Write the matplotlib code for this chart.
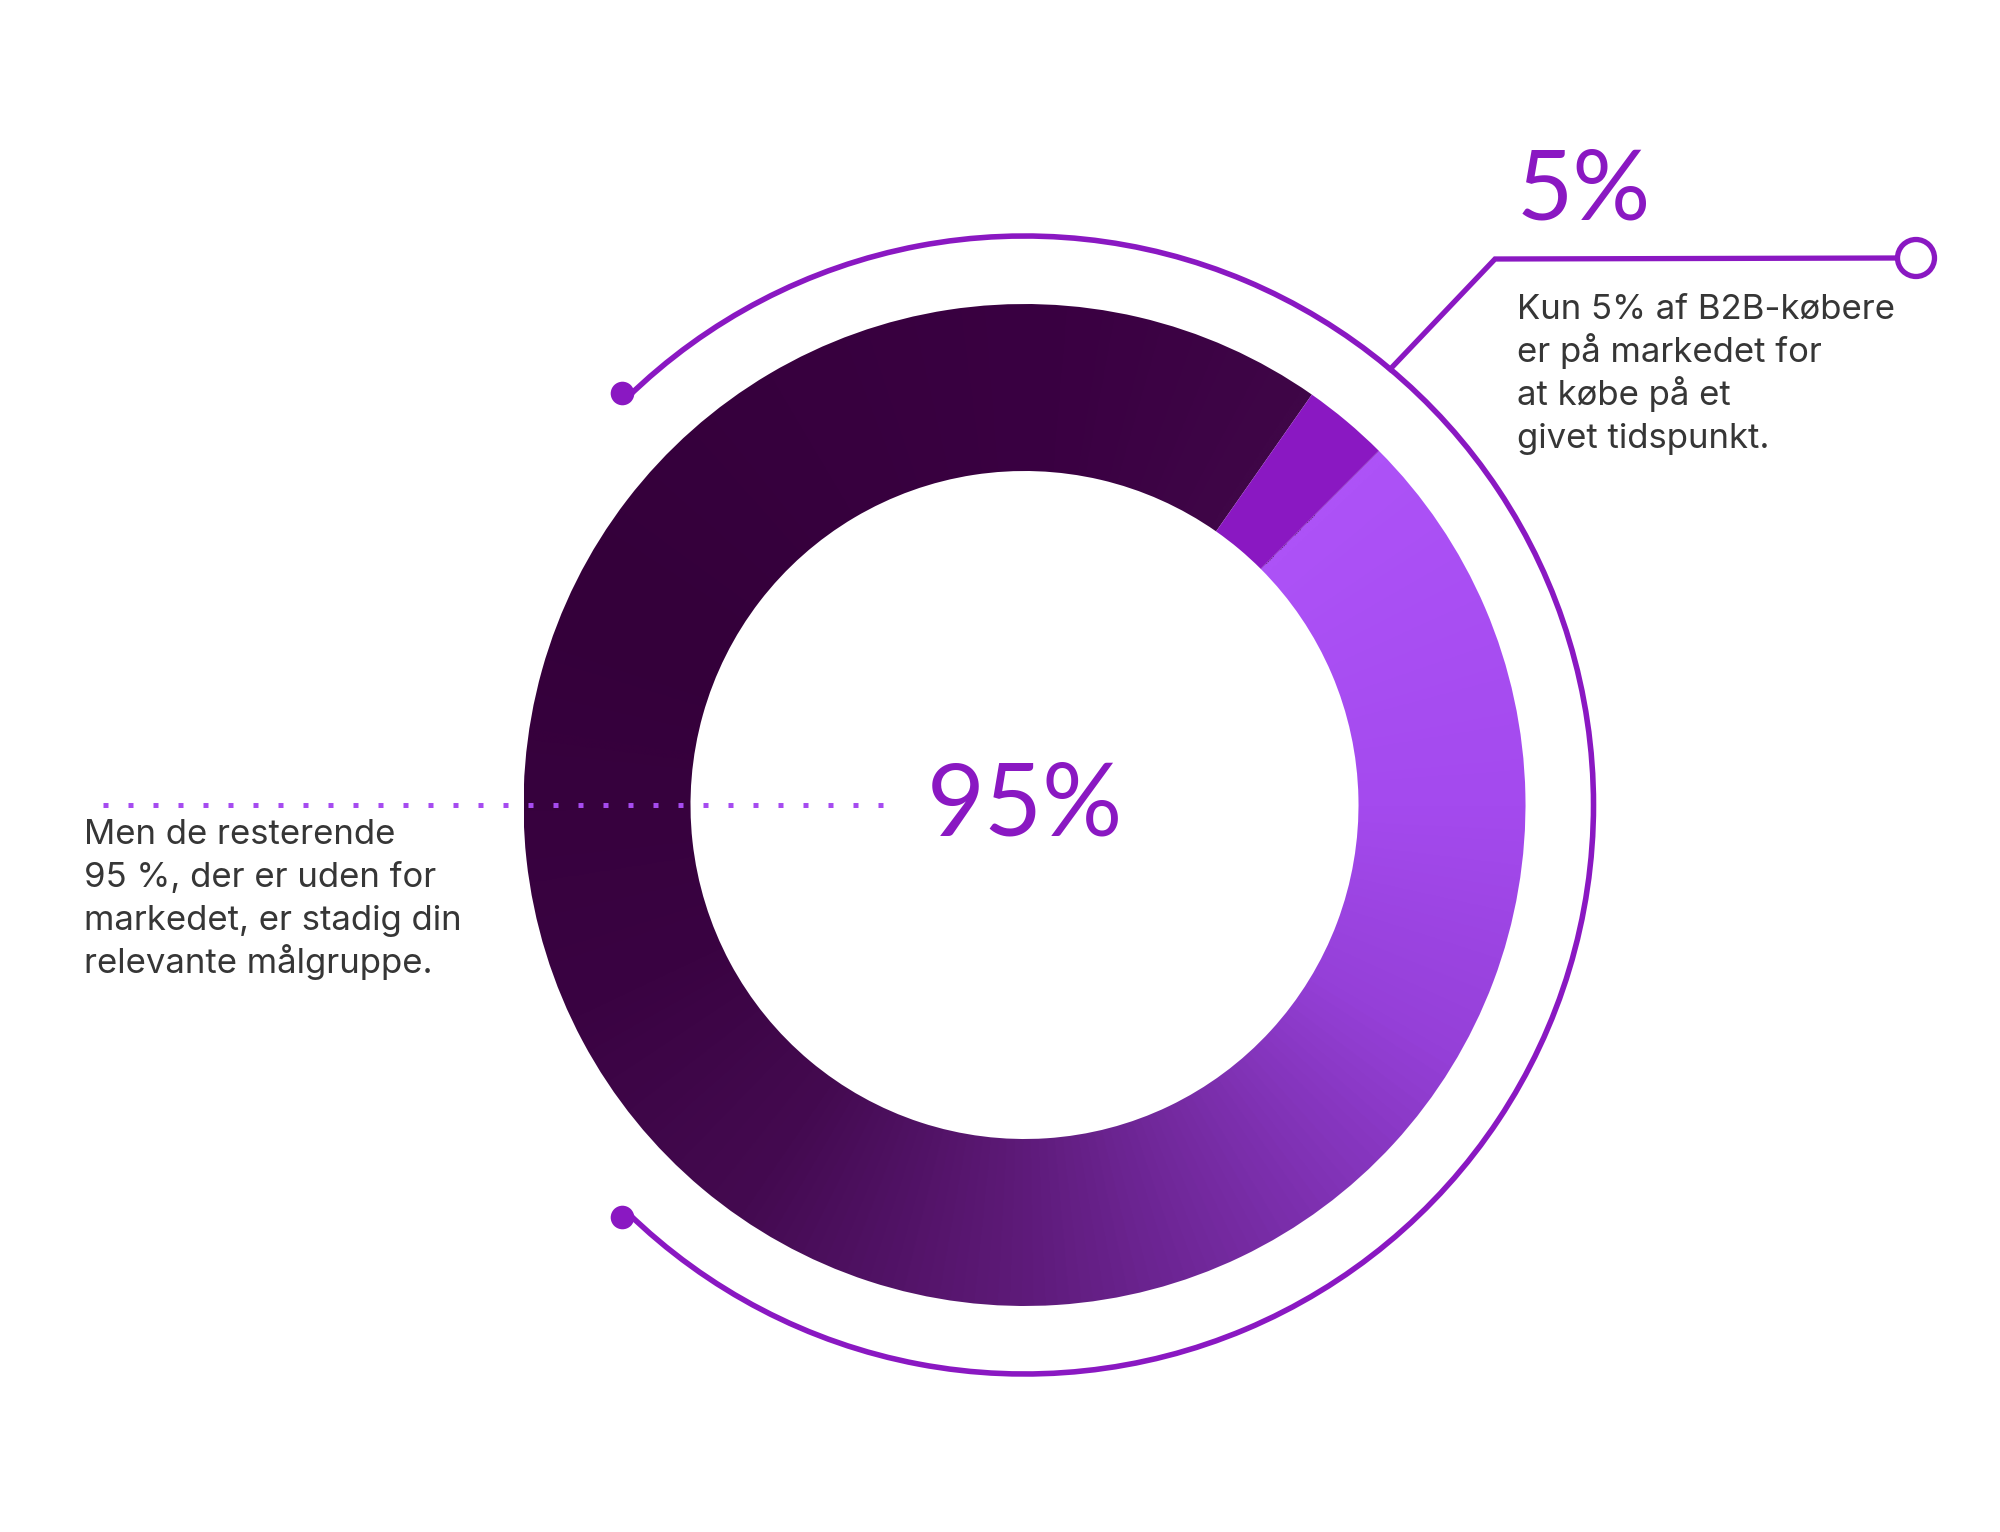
import numpy as np
import matplotlib
matplotlib.use('Agg')
import matplotlib.pyplot as plt
from matplotlib.patches import Wedge, Arc, Circle
from matplotlib.colors import LinearSegmentedColormap

plt.rcParams['font.family'] = ['Lato', 'DejaVu Sans']

# data
share_labels = ['5%', '95%']
span_deg     = [10, 350]          # angular size of the two segments as drawn
right_lines  = ['Kun 5% af B2B-købere', 'er på markedet for', 'at købe på et', 'givet tidspunkt.']
left_lines   = ['Men de resterende', '95 %, der er uden for', 'markedet, er stadig din', 'relevante målgruppe.']

# gradient of the big segment, clockwise from its start
grad_pos    = [0, 45, 75, 103, 136, 170, 200, 250, 320, 350]
grad_colors = ['#AD52F7', '#A44AEE', '#9540D8', '#7A2EAA', '#5D1A78',
               '#440A50', '#3A0342', '#34003A', '#3A0042', '#3F0647']

purple = '#8A18C2'
dot_purple = '#A64BF0'
text_grey = '#363636'

W, H = 2000, 1532
fig = plt.figure(figsize=(W / 100, H / 100), dpi=100)
ax = fig.add_axes([0, 0, 1, 1])

cx, cy = 1024.5, H - 805
r_out, r_in = 501, 334
r_ring = 569
start = 45  # boundary between the small and the big segment (deg)

# small segment
small = Wedge((cx, cy), r_out, start, start + span_deg[0], width=r_out - r_in,
              facecolor=purple, edgecolor='none', zorder=2)
ax.add_patch(small)

# big segment with conic gradient
cmap = LinearSegmentedColormap.from_list(
    'donut', list(zip(np.array(grad_pos) / span_deg[1], grad_colors)))
n = 1200
xs = np.linspace(cx - r_out, cx + r_out, n)
ys = np.linspace(cy - r_out, cy + r_out, n)
X, Y = np.meshgrid(xs, ys)
ang = np.degrees(np.arctan2(Y - cy, X - cx))
t = np.mod(start - ang, 360) / span_deg[1]
big = Wedge((cx, cy), r_out, start + span_deg[0], start + 360, width=r_out - r_in,
            facecolor='none', edgecolor='none')
ax.add_patch(big)
im = ax.imshow(cmap(np.clip(t, 0, 1)), origin='lower', interpolation='bilinear',
               extent=[cx - r_out, cx + r_out, cy - r_out, cy + r_out], zorder=1)
im.set_clip_path(big)

# outer thin ring with dot ends
ring_end = 134.3
ax.add_patch(Arc((cx, cy), 2 * r_ring, 2 * r_ring, theta1=-ring_end, theta2=ring_end,
                 color=purple, lw=4, zorder=3))
for a in (ring_end, -ring_end):
    ax.plot(cx + 576 * np.cos(np.radians(a)), cy + 576 * np.sin(np.radians(a)),
            'o', color=purple, ms=17, mec='none', zorder=4)
    ax.plot([cx + r_ring * np.cos(np.radians(a)), cx + 576 * np.cos(np.radians(a))],
            [cy + r_ring * np.sin(np.radians(a)), cy + 576 * np.sin(np.radians(a))],
            color=purple, lw=4, zorder=3)

# leader to the 5% label
lead_a = np.radians(50)
x0, y0 = cx + r_ring * np.cos(lead_a), cy + r_ring * np.sin(lead_a)
elbow = (1495, H - 259)
end_c = (1916, H - 258)
ax.plot([x0, elbow[0], end_c[0] - 19], [y0, elbow[1], end_c[1]], color=purple, lw=3.8,
        solid_joinstyle='miter', zorder=3)
ax.add_patch(Circle(end_c, 18.5, facecolor='white', edgecolor=purple, lw=3.8, zorder=4))

# dotted guide to the 95% label
ax.plot([103, 885], [cy, cy], color=dot_purple, lw=3.6, linestyle=(0, (1, 4)),
        dash_capstyle='butt', zorder=5)

# labels
ax.text(1517, H - 219, share_labels[0], fontsize=70, color=purple, ha='left', va='baseline')
ax.text(cx, H - 835, share_labels[1], fontsize=72, color=purple, ha='center', va='baseline')

body = dict(fontsize=25, color=text_grey, ha='left', va='baseline',
            family=['Inter', 'DejaVu Sans'])
for i, line in enumerate(right_lines):
    ax.text(1517, H - 319 - 43 * i, line, **body)
for i, line in enumerate(left_lines):
    ax.text(84, H - 844 - 43 * i, line, **body)

ax.set_xlim(0, W)
ax.set_ylim(0, H)
ax.set_aspect('equal')
ax.axis('off')
fig.savefig('out.png', dpi=100, facecolor='white')
